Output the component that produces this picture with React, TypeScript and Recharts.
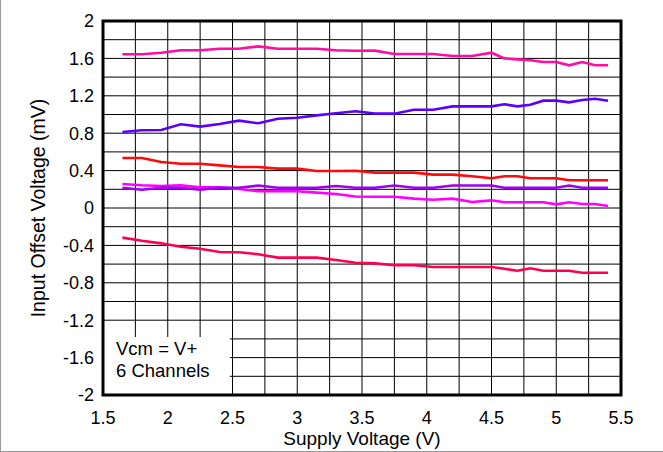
import React from "react";
import {
  LineChart,
  Line,
  XAxis,
  YAxis,
  CartesianGrid,
  ReferenceArea,
  Label,
} from "recharts";

// supply voltage sweep (V)
const supplyV = [
  1.65, 1.8, 1.95, 2.1, 2.25, 2.4, 2.55, 2.7, 2.85, 3.0, 3.15, 3.3, 3.45, 3.6, 3.75,
  3.9, 4.05, 4.2, 4.35, 4.5, 4.6, 4.7, 4.8, 4.9, 5.0, 5.1, 5.2, 5.3, 5.4,
];

// input offset voltage per channel (mV)
const ch1 = [
  1.644, 1.644, 1.661, 1.687, 1.687, 1.704, 1.704, 1.729, 1.704, 1.704, 1.704, 1.687, 1.682, 1.683, 1.647,
  1.647, 1.647, 1.626, 1.626, 1.661, 1.6, 1.59, 1.58, 1.561, 1.561, 1.526, 1.561, 1.526, 1.526,
];
const ch2 = [
  0.813, 0.831, 0.834, 0.895, 0.87, 0.898, 0.934, 0.906, 0.955, 0.966, 0.991, 1.013, 1.035, 1.009, 1.009,
  1.051, 1.051, 1.087, 1.087, 1.087, 1.109, 1.087, 1.105, 1.148, 1.148, 1.13, 1.155, 1.169, 1.148,
];
const ch3 = [
  0.535, 0.535, 0.492, 0.474, 0.474, 0.456, 0.439, 0.439, 0.421, 0.421, 0.396, 0.396, 0.398, 0.378, 0.378,
  0.378, 0.357, 0.357, 0.339, 0.318, 0.339, 0.339, 0.318, 0.318, 0.318, 0.296, 0.296, 0.296, 0.296,
];
const ch4 = [
  0.217, 0.196, 0.217, 0.217, 0.196, 0.217, 0.217, 0.24, 0.217, 0.217, 0.217, 0.235, 0.217, 0.217, 0.24,
  0.217, 0.217, 0.24, 0.24, 0.24, 0.217, 0.217, 0.217, 0.217, 0.217, 0.24, 0.217, 0.217, 0.217,
];
const ch5 = [
  0.257, 0.243, 0.235, 0.243, 0.221, 0.221, 0.203, 0.179, 0.179, 0.179, 0.164, 0.15, 0.123, 0.121, 0.121,
  0.1, 0.089, 0.1, 0.064, 0.082, 0.061, 0.061, 0.061, 0.061, 0.039, 0.061, 0.043, 0.043, 0.021,
];
const ch6 = [
  -0.317, -0.35, -0.378, -0.414, -0.435, -0.47, -0.474, -0.495, -0.531, -0.531, -0.531, -0.556, -0.585, -0.592, -0.613,
  -0.613, -0.631, -0.631, -0.631, -0.631, -0.65, -0.671, -0.645, -0.671, -0.671, -0.671, -0.692, -0.692, -0.692,
];

const xTicks = [1.5, 2, 2.5, 3, 3.5, 4, 4.5, 5, 5.5];
const yTicks = [-2, -1.6, -1.2, -0.8, -0.4, 0, 0.4, 0.8, 1.2, 1.6, 2];
const xGrid = [1.75, 2, 2.25, 2.5, 2.75, 3, 3.25, 3.5, 3.75, 4, 4.25, 4.5, 4.75, 5, 5.25];
const yGrid = [-1.8, -1.6, -1.4, -1.2, -1, -0.8, -0.6, -0.4, -0.2, 0, 0.2, 0.4, 0.6, 0.8, 1, 1.2, 1.4, 1.6, 1.8];

const series = [
  { key: "ch6", color: "#ff0050" },
  { key: "ch5", color: "#ff00ff" },
  { key: "ch4", color: "#a000f0" },
  { key: "ch3", color: "#ff0a0a" },
  { key: "ch2", color: "#5a00ff" },
  { key: "ch1", color: "#ff0ca0" },
];

const chartData = supplyV.map((v, i) => ({
  v,
  ch1: ch1[i],
  ch2: ch2[i],
  ch3: ch3[i],
  ch4: ch4[i],
  ch5: ch5[i],
  ch6: ch6[i],
}));

const FONT = "Arial, 'Liberation Sans', sans-serif";

export default function App() {
  return (
    <div style={{ position: "relative", width: 663, height: 452, background: "#fff", fontFamily: FONT }}>
      <style>{`body{margin:0}`}</style>
      <LineChart
        width={663}
        height={452}
        data={chartData}
        margin={{ top: 21, right: 42, left: 0, bottom: 0 }}
      >
        <CartesianGrid
          stroke="#000"
          strokeWidth={1}
          verticalValues={xGrid}
          horizontalValues={yGrid}
        />
        <XAxis
          dataKey="v"
          type="number"
          domain={[1.5, 5.5]}
          ticks={xTicks}
          interval={0}
          tickLine={false}
          axisLine={false}
          tickSize={0}
          tickMargin={16}
          height={57}
          tick={{ fill: "#000", fontSize: 18, fontFamily: FONT }}
        >
          <Label
            content={({ viewBox }: any) => (
              <text
                x={viewBox.x + viewBox.width / 2}
                y={viewBox.y + 50}
                textAnchor="middle"
                fontSize={19}
                fontFamily={FONT}
                fill="#000"
              >
                Supply Voltage (V)
              </text>
            )}
          />
        </XAxis>
        <YAxis
          type="number"
          domain={[-2, 2]}
          ticks={yTicks}
          interval={0}
          tickLine={false}
          axisLine={false}
          tickSize={0}
          tickMargin={9}
          width={103}
          tick={{ fill: "#000", fontSize: 18, fontFamily: FONT }}
        >
          <Label
            content={({ viewBox }: any) => {
              const cx = 45;
              const cy = viewBox.y + viewBox.height / 2;
              return (
                <text
                  x={cx}
                  y={cy}
                  transform={`rotate(-90 ${cx} ${cy})`}
                  textAnchor="middle"
                  fontSize={19.5}
                  fontFamily={FONT}
                  fill="#000"
                >
                  Input Offset Voltage (mV)
                </text>
              );
            }}
          />
        </YAxis>

        {series.map((s) => (
          <Line
            key={s.key}
            dataKey={s.key}
            stroke={s.color}
            strokeWidth={2.6}
            dot={false}
            type="linear"
            isAnimationActive={false}
          />
        ))}

        <ReferenceArea
          x1={1.5}
          x2={2.48}
          y1={-2}
          y2={-1.38}
          fill="#fff"
          fillOpacity={1}
          stroke="none"
          label={({ viewBox }: any) => (
            <text fontSize={18.5} fontFamily={FONT} fill="#000">
              <tspan x={viewBox.x + 13} y={viewBox.y + 18}>Vcm = V+</tspan>
              <tspan x={viewBox.x + 13} y={viewBox.y + 40}>6 Channels</tspan>
            </text>
          )}
        />
        <ReferenceArea
          x1={1.5}
          x2={5.5}
          y1={-2}
          y2={2}
          fill="none"
          stroke="#000"
          strokeWidth={3}
        />
      </LineChart>
      <div
        style={{
          position: "absolute",
          left: 0,
          top: 0,
          width: 662,
          height: 451,
          borderLeft: "1px solid #999",
          borderBottom: "1px solid #999",
          pointerEvents: "none",
        }}
      />
    </div>
  );
}
